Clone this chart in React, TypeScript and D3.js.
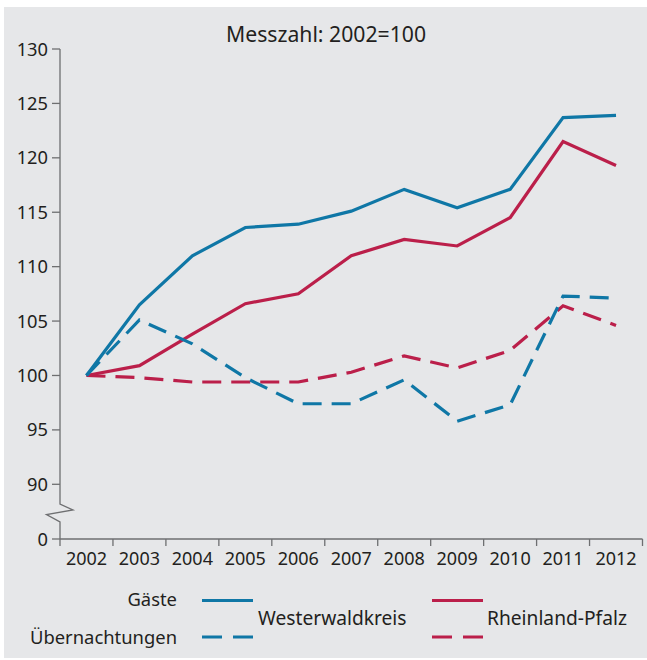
import React from 'react';
import * as d3 from 'd3';

// Messzahl 2002 = 100
const years = ['2002', '2003', '2004', '2005', '2006', '2007', '2008', '2009', '2010', '2011', '2012'];
const gaesteWesterwald = [100, 106.5, 111.0, 113.6, 113.9, 115.1, 117.1, 115.4, 117.1, 123.7, 123.9];
const gaesteRlp = [100, 100.9, 103.8, 106.6, 107.5, 111.0, 112.5, 111.9, 114.5, 121.5, 119.3];
const uebernWesterwald = [100, 105.1, 102.9, 99.8, 97.4, 97.4, 99.6, 95.8, 97.3, 107.3, 107.1];
const uebernRlp = [100, 99.8, 99.4, 99.4, 99.4, 100.3, 101.8, 100.7, 102.3, 106.4, 104.6];
const yTicks = [0, 90, 95, 100, 105, 110, 115, 120, 125, 130];

const BLUE = '#0f77a6';
const RED = '#bb1f4a';
const AXIS = '#6e6f71';
const TEXT = '#231f20';
const FONT = '"Noto Sans", "Open Sans", sans-serif';
const DASH = '19 10';

const W = 647;
const H = 660;

export default function App() {
    const x = d3.scaleBand<string>().domain(years).range([60, 642.5]).padding(0);
    const y = d3.scaleLinear().domain([0, 90, 130]).range([539, 484.3, 49]);
    const cx = (yr: string) => (x(yr) as number) + x.bandwidth() / 2;

    const line = d3.line<number>()
        .x((_, i) => cx(years[i]))
        .y(d => y(d))
        .curve(d3.curveLinear);

    const x0 = 60;
    const yBase = y(0);
    // axis break between 90 and 0
    const breakTop = 504;
    const axisPath = `M${x0},${y(130)}V${breakTop}l13,6l-26.5,4.5l13.5,7.5V${yBase}`;

    const series = [
        { key: 'uebernRlp', values: uebernRlp, color: RED, dash: DASH },
        { key: 'gaesteRlp', values: gaesteRlp, color: RED, dash: null },
        { key: 'uebernWw', values: uebernWesterwald, color: BLUE, dash: DASH },
        { key: 'gaesteWw', values: gaesteWesterwald, color: BLUE, dash: null },
    ];

    const tickEdges = [...years.map(yr => x(yr) as number), x.range()[1]];

    return (
        <div style={{ position: 'absolute', left: 0, top: 0 }}>
            <svg width={W} height={H} style={{ display: 'block', fontFamily: FONT }}>
                <rect x={0} y={0} width={W} height={H} fill="#ffffff" />
                <rect x={4} y={7} width={W - 4} height={H - 9} fill="#e6e7e9" />

                {/* Title */}
                <text x={326} y={42} textAnchor="middle" fontSize={21.2} fill={TEXT}>
                    Messzahl: 2002=100
                </text>

                {/* Y axis */}
                <path d={axisPath} fill="none" stroke={AXIS} strokeWidth={1.3} />
                {yTicks.map(t => (
                    <g key={t} transform={`translate(0, ${y(t)})`}>
                        <line x1={52} x2={x0} stroke={AXIS} strokeWidth={1.3} />
                        <text x={48} dy="0.36em" textAnchor="end" fontSize={18.3} fill={TEXT}>
                            {t}
                        </text>
                    </g>
                ))}

                {/* X axis */}
                <line x1={x0} x2={x.range()[1]} y1={yBase} y2={yBase} stroke={AXIS} strokeWidth={1.3} />
                {tickEdges.map((e, i) => (
                    <line key={i} x1={e} x2={e} y1={yBase} y2={yBase + 7} stroke={AXIS} strokeWidth={1.3} />
                ))}
                {years.map(yr => (
                    <text key={yr} x={cx(yr)} y={565} textAnchor="middle" fontSize={18} fill={TEXT}>
                        {yr}
                    </text>
                ))}

                {/* Lines */}
                {series.map(s => (
                    <path
                        key={s.key}
                        d={line(s.values) || ''}
                        fill="none"
                        stroke={s.color}
                        strokeWidth={3.2}
                        strokeDasharray={s.dash || undefined}
                    />
                ))}

                {/* Legend */}
                <text x={177} y={606} textAnchor="end" fontSize={18.4} fill={TEXT}>Gäste</text>
                <text x={177} y={644} textAnchor="end" fontSize={18.4} fill={TEXT}>Übernachtungen</text>
                <line x1={202} x2={253} y1={600.5} y2={600.5} stroke={BLUE} strokeWidth={3.2} />
                <line x1={202} x2={253} y1={637} y2={637} stroke={BLUE} strokeWidth={3.2} strokeDasharray="20 11" />
                <text x={258} y={625} fontSize={19.2} fill={TEXT}>Westerwaldkreis</text>
                <line x1={432} x2={483} y1={600.5} y2={600.5} stroke={RED} strokeWidth={3.2} />
                <line x1={432} x2={483} y1={637} y2={637} stroke={RED} strokeWidth={3.2} strokeDasharray="20 11" />
                <text x={487} y={625} fontSize={19.2} fill={TEXT}>Rheinland-Pfalz</text>
            </svg>
        </div>
    );
}
